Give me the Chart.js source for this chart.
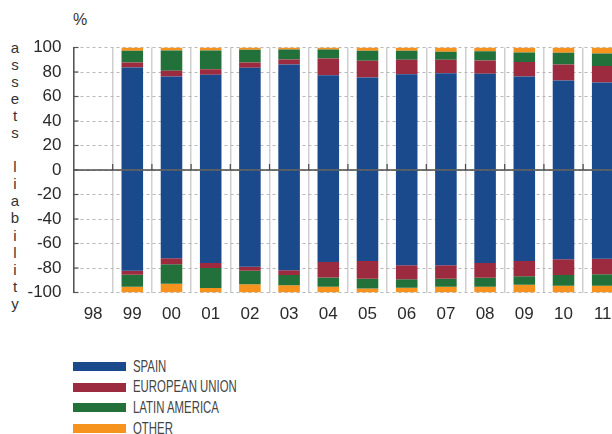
<!DOCTYPE html>
<html>
<head>
<meta charset="utf-8">
<script src="https://cdn.jsdelivr.net/npm/chart.js@4/dist/chart.umd.min.js"></script>
<style>
    body { margin: 0; background: #fff; overflow: hidden; width: 612px; height: 434px; position: relative; }
    #chartBox { position: absolute; left: 0; top: 0; width: 640px; height: 330px; }
    #unit { position: absolute; left: 73px; top: 11px; font: 16px 'Liberation Sans', Arial, sans-serif; color: #333; }
    #axisTitle { position: absolute; left: 7px; top: 38.5px; width: 16px; text-align: center;
        font: 15px 'Liberation Sans', Arial, sans-serif; line-height: 17.1px; color: #333; }
    #legend { position: absolute; left: 72.7px; top: 356.5px; }
    .row { height: 20.6px; display: flex; align-items: center; }
    .swatch { width: 53px; height: 9px; margin-right: 7px; }
    .label { font: 17px 'Liberation Sans', Arial, sans-serif; color: #444; transform: scaleX(0.67); transform-origin: left center; white-space: nowrap; }
</style>
</head>
<body>
<div id="unit">%</div>
<div id="axisTitle"></div>
<div id="chartBox"><canvas id="stackChart"></canvas></div>
<div id="legend"></div>

<script>
// categories
const years = ['98', '99', '00', '01', '02', '03', '04', '05', '06', '07', '08', '09', '10', '11'];
const yTicks = [-100, -80, -60, -40, -20, 0, 20, 40, 60, 80, 100];

// assets (positive side), % of total
const spainAssets = [null, 83.6, 76.3, 77.7, 83.4, 86.1, 77.4, 75.5, 78.2, 79.0, 78.5, 76.3, 73.0, 71.4];
const euAssets = [null, 4.1, 4.7, 4.6, 4.3, 4.1, 13.6, 13.6, 11.7, 10.9, 10.9, 11.8, 13.1, 13.4];
const latamAssets = [null, 9.6, 16.5, 15.2, 10.4, 8.2, 7.4, 8.2, 7.4, 6.6, 7.6, 7.8, 9.6, 10.3];
const otherAssets = [null, 2.7, 2.5, 2.5, 1.9, 1.6, 1.6, 2.7, 2.7, 3.5, 3.0, 4.1, 4.3, 4.9];

// liabilities (negative side), % of total
const spainLiab = [null, -82.3, -72.0, -76.0, -79.0, -81.8, -75.2, -74.2, -77.7, -77.7, -76.0, -74.2, -72.8, -72.5];
const euLiab = [null, -3.3, -4.9, -3.9, -3.3, -4.0, -12.6, -14.6, -11.4, -11.1, -12.0, -12.5, -13.0, -12.5];
const latamLiab = [null, -9.8, -16.0, -16.5, -10.9, -8.2, -7.6, -7.9, -7.1, -6.6, -7.4, -7.0, -8.7, -9.5];
const otherLiab = [null, -4.6, -7.1, -3.6, -6.8, -6.0, -4.6, -3.3, -3.8, -4.6, -4.6, -6.3, -5.5, -5.5];

const seriesNames = ['SPAIN', 'EUROPEAN UNION', 'LATIN AMERICA', 'OTHER'];
const seriesColors = ['#1a4a8b', '#9d2b3f', '#22703a', '#f6921e'];

// vertical axis title, one letter per line
document.getElementById('axisTitle').innerHTML =
    'assets liability'.split('').map(c => c === ' ' ? '&nbsp;' : c).join('<br>');

// legend
const legendBox = document.getElementById('legend');
seriesNames.forEach((name, i) => {
    const row = document.createElement('div');
    row.className = 'row';
    row.innerHTML = '<span class="swatch" style="background:' + seriesColors[i] + '"></span><span class="label">' + name + '</span>';
    legendBox.appendChild(row);
});

function makeSet(data, i) {
    return {
        label: seriesNames[i],
        data: data,
        backgroundColor: seriesColors[i],
        borderWidth: 0,
        barPercentage: 0.55,
        categoryPercentage: 1.0
    };
}

// zero line, its small ticks and the inner y ticks
const axisMarks = {
    id: 'axisMarks',
    afterDatasetsDraw(chart) {
        const { ctx, chartArea, scales } = chart;
        const y0 = scales.y.getPixelForValue(0);
        const step = (chartArea.right - chartArea.left) / years.length;
        ctx.save();
        ctx.strokeStyle = '#4a4a4a';
        ctx.lineWidth = 1.5;
        ctx.beginPath();
        ctx.moveTo(chartArea.left, y0);
        ctx.lineTo(chartArea.right, y0);
        ctx.stroke();
        ctx.lineWidth = 1.2;
        for (let i = 1; i < years.length; i++) {
            const x = chartArea.left + i * step;
            ctx.beginPath();
            ctx.moveTo(x, y0 - 6);
            ctx.lineTo(x, y0);
            ctx.stroke();
        }
        ctx.strokeStyle = '#555';
        yTicks.forEach(v => {
            const y = scales.y.getPixelForValue(v);
            ctx.beginPath();
            ctx.moveTo(chartArea.left, y);
            ctx.lineTo(chartArea.left + 5, y);
            ctx.stroke();
        });
        ctx.restore();
    }
};

new Chart(document.getElementById('stackChart'), {
    type: 'bar',
    data: {
        labels: years,
        datasets: [
            makeSet(spainAssets, 0), makeSet(euAssets, 1), makeSet(latamAssets, 2), makeSet(otherAssets, 3),
            makeSet(spainLiab, 0), makeSet(euLiab, 1), makeSet(latamLiab, 2), makeSet(otherLiab, 3)
        ]
    },
    options: {
        responsive: true,
        maintainAspectRatio: false,
        animation: false,
        layout: { padding: { top: 47.5, right: 17.7, left: 0, bottom: 0 } },
        plugins: {
            legend: { display: false },
            tooltip: { enabled: false }
        },
        scales: {
            x: {
                stacked: true,
                grid: { color: '#cfcfcf', lineWidth: 1.5, drawTicks: false, offset: true },
                border: { display: false },
                ticks: { color: '#2a2a2a', padding: 12, font: { family: "'Liberation Sans', Arial, sans-serif", size: 17 } },
                afterFit(scale) { scale.height = 37.5; }
            },
            y: {
                stacked: true,
                min: -100,
                max: 100,
                grid: { color: '#b8b8b8', lineWidth: 1, drawTicks: false },
                border: { display: true, color: '#555', width: 1.5, dash: [3, 3] },
                ticks: { stepSize: 20, color: '#2a2a2a', padding: 12, font: { family: "'Liberation Sans', Arial, sans-serif", size: 17 } },
                afterFit(scale) { scale.width = 73.5; }
            }
        }
    },
    plugins: [axisMarks]
});
</script>
</body>
</html>
